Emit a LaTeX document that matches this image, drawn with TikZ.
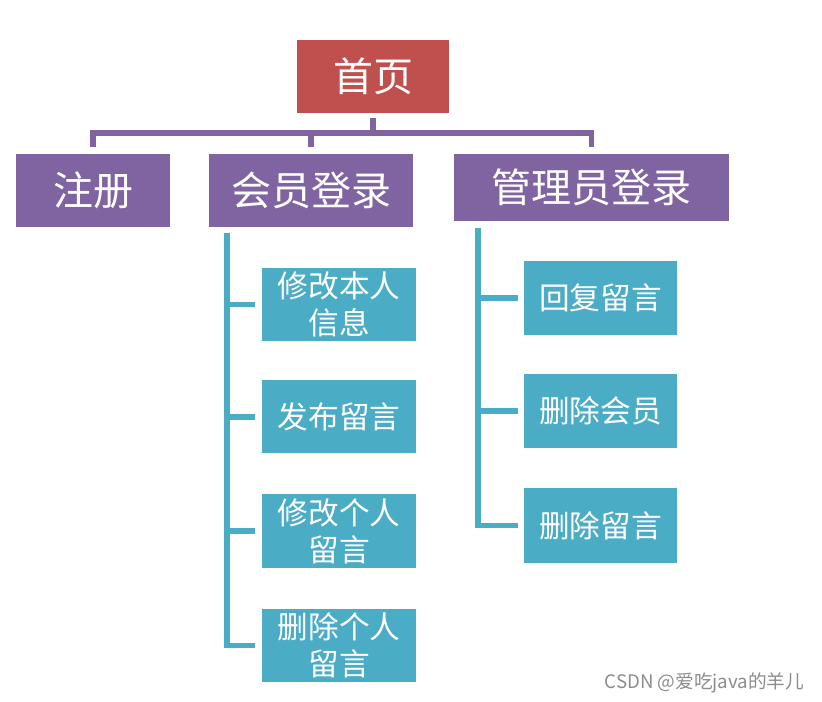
\documentclass[tikz,border=0pt]{standalone}
\usepackage{fontspec}
\newfontfamily\cjk{Noto Sans CJK SC}
\usetikzlibrary{calc}
\definecolor{rootred}{HTML}{C0504D}
\definecolor{topviolet}{HTML}{8064A2}
\definecolor{leafteal}{HTML}{4BACC6}
\definecolor{markgray}{HTML}{8C8C8C}
\tikzset{
  box/.style={inner sep=0pt, text=white, align=center},
  rootbox/.style={box, fill=rootred, font=\cjk\fontsize{30}{36}\selectfont},
  topbox/.style={box, fill=topviolet, font=\cjk\fontsize{30}{36}\selectfont},
  leafbox/.style={box, fill=leafteal, minimum width=154*0.75pt, minimum height=73*0.75pt,
    font=\cjk\fontsize{23}{28}\selectfont},
  pline/.style={topviolet, line width=4.2pt},
  tline/.style={leafteal, line width=4.2pt},
}
\begin{document}
\begin{tikzpicture}[x=0.75pt, y=-0.75pt]
    \useasboundingbox (0,0) rectangle (822,702);
    % top level
    \node[rootbox, minimum width=152*0.75pt, minimum height=73*0.75pt] (root) at (373,76.5) {首页};
    \node[topbox, minimum width=154*0.75pt, minimum height=73*0.75pt] (reg) at (93,190.5) {注册};
    \node[topbox, minimum width=204*0.75pt, minimum height=73*0.75pt] (mem) at (311,190.5) {会员登录};
    \node[topbox, minimum width=275*0.75pt, minimum height=67*0.75pt] (adm) at (591.5,187.5) {管理员登录};
    % member functions
    \node[leafbox] (m1) at (339,304.5) {修改本人\\信息};
    \node[leafbox] (m2) at (339,417) {发布留言};
    \node[leafbox] (m3) at (339,531) {修改个人\\留言};
    \node[leafbox] (m4) at (339,645.5) {删除个人\\留言};
    % admin functions
    \node[leafbox, minimum width=153*0.75pt, minimum height=74*0.75pt] (a1) at (600.5,298) {回复留言};
    \node[leafbox, minimum width=153*0.75pt, minimum height=74*0.75pt] (a2) at (600.5,411) {删除会员};
    \node[leafbox, minimum width=153*0.75pt, minimum height=74*0.75pt] (a3) at (600.5,525.5) {删除留言};
    % connectors
    \coordinate (bus) at ($(root.south)+(0,20)$);
    \draw[pline] ($(root.south)+(0,5)$) -- (bus);
    \foreach \n in {reg,mem,adm}
        \draw[pline] (bus) -| ($(\n.north)+(0,-7)$);
    \coordinate (mtop) at ($(mem.south west)+(18,6)$);
    \foreach \n in {m1,m2,m3,m4}
        \draw[tline] (mtop) |- ($(\n.west)+(-7,0)$);
    \coordinate (atop) at ($(adm.south west)+(24,7)$);
    \foreach \n in {a1,a2,a3}
        \draw[tline] (atop) |- ($(\n.west)+(-6,0)$);
    \node[text=markgray, font=\cjk\fontsize{14}{16}\selectfont] (mark) at (704.5,683) {CSDN @爱吃java的羊儿};
\end{tikzpicture}
\end{document}
